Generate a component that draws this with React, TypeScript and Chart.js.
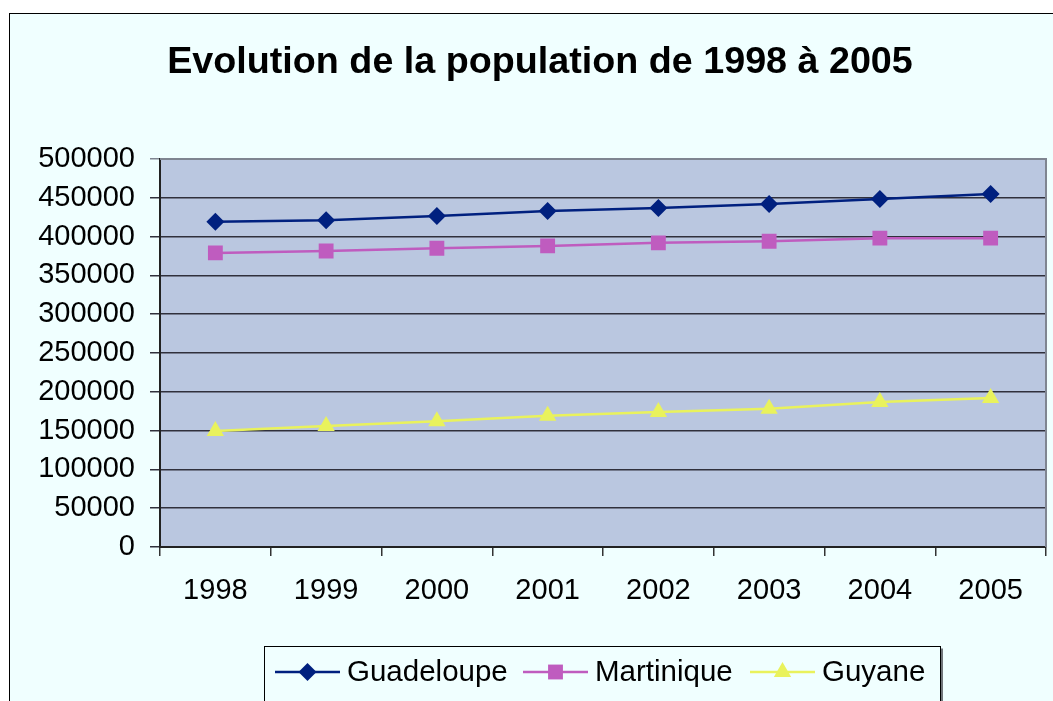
import React, { useEffect, useRef } from "react";
import { Chart, registerables } from "chart.js";

Chart.register(...registerables);

const TITLE = "Evolution de la population de 1998 à 2005";
const YEARS = ["1998", "1999", "2000", "2001", "2002", "2003", "2004", "2005"];
const SERIES_NAMES = ["Guadeloupe", "Martinique", "Guyane"];
const GUADELOUPE = [419000, 421000, 426500, 433000, 437000, 442000, 448500, 455000];
const MARTINIQUE = [379000, 381500, 385000, 388000, 392000, 394000, 398000, 398000];
const GUYANE = [149500, 156000, 162000, 169000, 174000, 178000, 187000, 192000];
const Y_MIN = 0;
const Y_MAX = 500000;
const Y_STEP = 50000;

const COLORS = ["#00207f", "#bf5cbf", "#e9f25c"];
const STYLES = ["rectRot", "rect", "triangle"];
const RADII = [9, 10.5, 10];
const LEGEND_X = [275, 523, 750];

const FONT = "'Liberation Sans', Arial, Helvetica, sans-serif";
const W = 1053;
const H = 701;

function drawMarker(ctx: CanvasRenderingContext2D, style: string, x: number, y: number, r: number, color: string) {
  ctx.save();
  ctx.fillStyle = color;
  ctx.beginPath();
  if (style === "rectRot") {
    ctx.moveTo(x, y - r);
    ctx.lineTo(x + r, y);
    ctx.lineTo(x, y + r);
    ctx.lineTo(x - r, y);
  } else if (style === "rect") {
    const s = r * Math.SQRT1_2;
    ctx.rect(x - s, y - s, 2 * s, 2 * s);
  } else {
    ctx.moveTo(x, y - r);
    ctx.lineTo(x + r * 0.866, y + r * 0.5);
    ctx.lineTo(x - r * 0.866, y + r * 0.5);
  }
  ctx.closePath();
  ctx.fill();
  ctx.restore();
}

const framePlugin = {
  id: "frame",
  beforeDraw(chart: any) {
    const ctx = chart.ctx as CanvasRenderingContext2D;
    const { left, top, right, bottom } = chart.chartArea;
    ctx.save();
    ctx.fillStyle = "#ffffff";
    ctx.fillRect(0, 0, W, H);
    ctx.fillStyle = "#f0ffff";
    ctx.fillRect(9, 13, W, H);
    ctx.strokeStyle = "#000000";
    ctx.lineWidth = 1;
    ctx.strokeRect(9.5, 13.5, W + 20, H + 20);
    ctx.fillStyle = "#bac7e0";
    ctx.fillRect(left, top, right - left, bottom - top);
    ctx.restore();
  },
  beforeDatasetsDraw(chart: any) {
    const ctx = chart.ctx as CanvasRenderingContext2D;
    const { left, top, right, bottom } = chart.chartArea;
    ctx.save();
    ctx.strokeStyle = "#7f8591";
    ctx.lineWidth = 2;
    ctx.beginPath();
    ctx.moveTo(left, top);
    ctx.lineTo(right, top);
    ctx.lineTo(right, bottom);
    ctx.stroke();
    ctx.restore();
  },
  afterDraw(chart: any) {
    const ctx = chart.ctx as CanvasRenderingContext2D;
    ctx.save();
    // title
    ctx.fillStyle = "#000000";
    ctx.font = `bold 37.7px ${FONT}`;
    ctx.textAlign = "center";
    ctx.textBaseline = "middle";
    ctx.fillText(TITLE, 540, 63);

    // legend box
    const bx = 264.5, by = 646.5, bw = 676, bh = 80;
    ctx.fillStyle = "#f0ffff";
    ctx.fillRect(bx, by, bw, bh);
    ctx.strokeStyle = "#000000";
    ctx.lineWidth = 1;
    ctx.strokeRect(bx, by, bw, bh);
    ctx.strokeStyle = "#70757a";
    ctx.lineWidth = 2;
    ctx.beginPath();
    ctx.moveTo(bx + bw + 1.5, by + 2);
    ctx.lineTo(bx + bw + 1.5, H);
    ctx.stroke();

    ctx.font = `29.5px ${FONT}`;
    ctx.textAlign = "left";
    ctx.textBaseline = "middle";
    const ly = 672;
    SERIES_NAMES.forEach((name, i) => {
      const x = LEGEND_X[i];
      ctx.strokeStyle = COLORS[i];
      ctx.lineWidth = 2.5;
      ctx.beginPath();
      ctx.moveTo(x, ly);
      ctx.lineTo(x + 65, ly);
      ctx.stroke();
      drawMarker(ctx, STYLES[i], x + 32.5, ly, RADII[i], COLORS[i]);
      ctx.fillStyle = "#000000";
      ctx.fillText(name, x + 72, ly + 1);
    });
    ctx.restore();
  },
};

export default function App() {
  const ref = useRef<HTMLCanvasElement | null>(null);

  useEffect(() => {
    if (!ref.current) return;
    const series = [GUADELOUPE, MARTINIQUE, GUYANE];
    const chart = new Chart(ref.current, {
      type: "line",
      data: {
        labels: YEARS,
        datasets: series.map((data, i) => ({
          label: SERIES_NAMES[i],
          data,
          borderColor: COLORS[i],
          backgroundColor: COLORS[i],
          borderWidth: 2.5,
          pointStyle: STYLES[i] as any,
          pointRadius: RADII[i],
          pointBorderWidth: 0,
          pointBackgroundColor: COLORS[i],
          pointBorderColor: COLORS[i],
          tension: 0,
          fill: false,
        })),
      },
      options: {
        animation: false,
        responsive: false,
        devicePixelRatio: 1,
        events: [],
        layout: { autoPadding: false, padding: { left: 0, top: 159, right: 7, bottom: 0 } },
        plugins: {
          legend: { display: false },
          title: { display: false },
          tooltip: { enabled: false },
        },
        scales: {
          x: {
            type: "category",
            offset: true,
            grid: {
              display: true,
              drawOnChartArea: false,
              drawTicks: true,
              tickLength: 9,
              offset: true,
              color: "#333333",
              lineWidth: 1.5,
            },
            border: { display: true, color: "#222222", width: 2 },
            ticks: {
              color: "#000000",
              font: { family: FONT, size: 29 },
              padding: 18,
              maxRotation: 0,
            },
            afterFit(scale: any) {
              scale.height = H - 547;
              scale.paddingLeft = 0;
              scale.paddingRight = 0;
            },
          },
          y: {
            min: Y_MIN,
            max: Y_MAX,
            grid: {
              color: (c: any) => (c.tick && c.tick.value === Y_MAX ? "#7f8591" : "#30303c"),
              lineWidth: 1.5,
              tickLength: 10,
              drawTicks: true,
            },
            border: { display: true, color: "#222222", width: 2 },
            ticks: {
              stepSize: Y_STEP,
              color: "#000000",
              font: { family: FONT, size: 29 },
              padding: 15,
              callback: (v: any) => String(v),
            },
            afterFit(scale: any) {
              scale.width = 160;
            },
          },
        },
      },
      plugins: [framePlugin],
    });
    return () => chart.destroy();
  }, []);

  return (
    <div style={{ position: "absolute", left: 0, top: 0, width: W, height: H, overflow: "hidden", background: "#ffffff" }}>
      <canvas ref={ref} width={W} height={H} style={{ display: "block", width: W, height: H }} />
    </div>
  );
}
